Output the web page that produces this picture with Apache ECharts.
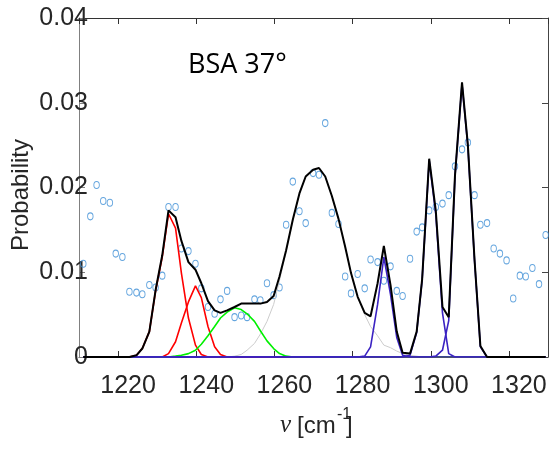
<!DOCTYPE html>
<html><head><meta charset="utf-8">
<script src="https://cdn.jsdelivr.net/npm/echarts@6/dist/echarts.min.js"></script>
<style>html,body{margin:0;padding:0;background:#fff}#c{width:552px;height:452px}</style>
</head><body><div id="c"></div>
<script>
// wavenumber grid (cm^-1)
const nu = [
1211.1,1212.9,1214.5,1216.2,1217.9,1219.4,1221.1,1222.9,1224.7,1226.2,1228.0,1229.6,
1231.3,1232.9,1234.7,1236.2,1238.0,1239.8,1241.3,1243.0,1244.7,1246.2,1247.9,1249.8,
1251.5,1253.0,1254.9,1256.4,1258.1,1259.8,1261.3,1263.0,1264.7,1266.4,1268.0,1269.9,
1271.4,1273.0,1274.7,1276.4,1278.1,1279.6,1281.3,1283.1,1284.6,1286.4,1288.0,1289.7,
1291.3,1292.8,1294.7,1296.4,1297.8,1299.6,1301.3,1303.0,1304.6,1306.2,1308.0,1309.5,
1311.2,1312.7,1314.4,1316.1,1317.7,1319.4,1321.1,1322.8,1324.3,1326.0,1327.7,1329.4];
// measured probability (circles)
const measured = [
0.0110,0.0166,0.0203,0.0184,0.0182,0.0122,0.0118,0.0077,0.0076,0.0074,0.0085,0.0082,
0.0096,0.0177,0.0177,0.0128,0.0125,0.0110,0.0081,0.0059,0.0051,0.0068,0.0078,0.0047,
0.0049,0.0047,0.0068,0.0067,0.0087,0.0073,0.0082,0.0156,0.0207,0.0172,0.0158,0.0217,
0.0215,0.0276,0.0170,0.0157,0.0095,0.0075,0.0098,0.0081,0.0115,0.0112,0.0090,0.0107,
0.0078,0.0072,0.0116,0.0148,0.0153,0.0173,0.0177,0.0181,0.0191,0.0225,0.0245,0.0253,
0.0191,0.0156,0.0158,0.0128,0.0122,0.0114,0.0069,0.0096,0.0095,0.0105,0.0086,0.0144];
// total fit (black)
const fitTotal = [
0,0,0,0,0,0,0,0,0.0002,0.0010,0.0030,0.0079,
0.0120,0.0173,0.0165,0.0137,0.0112,0.0103,0.0087,0.0066,0.0055,0.0052,0.0055,0.0059,
0.0063,0.0063,0.0063,0.0063,0.0065,0.0072,0.0095,0.0126,0.0162,0.0193,0.0213,0.0221,
0.0223,0.0213,0.0190,0.0163,0.0130,0.0099,0.0071,0.0052,0.0048,0.0087,0.0131,0.0085,
0.0030,0.0005,0.0004,0.0030,0.0092,0.0234,0.0172,0.0059,0.0047,0.0214,0.0324,0.0250,
0.0115,0.0013,0,0,0,0,0,0,0,0,0,0];
// component bands
const red1 = [
0,0,0,0,0,0,0,0,0.0002,0.0010,0.0030,0.0078,
0.0118,0.0169,0.0152,0.0099,0.0046,0.0014,0.0003,0,0,0,0,0,
0,0,0,0,0,0,0,0,0,0,0,0,
0,0,0,0,0,0,0,0,0,0,0,0,
0,0,0,0,0,0,0,0,0,0,0,0,
0,0,0,0,0,0,0,0,0,0,0,0];
const red2 = [
0,0,0,0,0,0,0,0,0,0,0,0,
0,0.0004,0.0018,0.0040,0.0065,0.0084,0.0070,0.0036,0.0012,0.0003,0,0,
0,0,0,0,0,0,0,0,0,0,0,0,
0,0,0,0,0,0,0,0,0,0,0,0,
0,0,0,0,0,0,0,0,0,0,0,0,
0,0,0,0,0,0,0,0,0,0,0,0];
const green = [
0,0,0,0,0,0,0,0,0,0,0,0,
0,0,0.0001,0.0002,0.0004,0.0008,0.0015,0.0025,0.0036,0.0046,0.0053,0.0058,
0.0056,0.0051,0.0042,0.0031,0.0019,0.0010,0.0004,0.0001,0,0,0,0,
0,0,0,0,0,0,0,0,0,0,0,0,
0,0,0,0,0,0,0,0,0,0,0,0,
0,0,0,0,0,0,0,0,0,0,0,0];
const gray = [
0,0,0,0,0,0,0,0,0,0,0,0,
0,0,0,0,0,0,0,0,0,0,0,0.0001,
0.0003,0.0008,0.0016,0.0027,0.0042,0.0062,0.0090,0.0125,0.0161,0.0193,0.0213,0.0221,
0.0223,0.0213,0.0190,0.0163,0.0130,0.0099,0.0071,0.0050,0.0036,0.0025,0.0014,0.0011,
0.0007,0.0004,0.0002,0.0001,0,0,0,0,0,0,0,0,
0,0,0,0,0,0,0,0,0,0,0,0];
const blue1 = [
0,0,0,0,0,0,0,0,0,0,0,0,
0,0,0,0,0,0,0,0,0,0,0,0,
0,0,0,0,0,0,0,0,0,0,0,0,
0,0,0,0,0,0,0,0.0001,0.0012,0.0062,0.0118,0.0074,
0.0023,0.0002,0,0,0,0,0,0,0,0,0,0,
0,0,0,0,0,0,0,0,0,0,0,0];
const blue2 = [
0,0,0,0,0,0,0,0,0,0,0,0,
0,0,0,0,0,0,0,0,0,0,0,0,
0,0,0,0,0,0,0,0,0,0,0,0,
0,0,0,0,0,0,0,0,0,0,0,0,
0,0,0.0002,0.0029,0.0091,0.0232,0.0168,0.0052,0.0004,0,0,0,
0,0,0,0,0,0,0,0,0,0,0,0];
const blue3 = [
0,0,0,0,0,0,0,0,0,0,0,0,
0,0,0,0,0,0,0,0,0,0,0,0,
0,0,0,0,0,0,0,0,0,0,0,0,
0,0,0,0,0,0,0,0,0,0,0,0,
0,0,0,0,0,0,0.0001,0.0008,0.0043,0.0213,0.0322,0.0248,
0.0114,0.0012,0,0,0,0,0,0,0,0,0,0];

const pts = arr => nu.map((x, i) => [x, arr[i]]);
const lineS = (arr, color, w) => ({
  type: 'line', data: pts(arr), showSymbol: false, symbol: 'none',
  lineStyle: { color: color, width: w }, silent: true, animation: false
});
const axisCol = '#262626';
const chart = echarts.init(document.getElementById('c'), null, { renderer: 'canvas' });
chart.setOption({
  animation: false,
  backgroundColor: '#ffffff',
  grid: { left: 79, right: 4, top: 18, bottom: 95, containLabel: false },
  xAxis: [{
    type: 'value', position: 'bottom', min: 1210, max: 1330, splitNumber: 6,
    axisLine: { show: true, onZero: false, lineStyle: { color: '#333', width: 1 } },
    axisTick: { show: true, inside: true, length: 6, lineStyle: { color: '#333' } },
    axisLabel: { show: true, showMinLabel: false, showMaxLabel: false, margin: 17,
      fontFamily: 'Liberation Sans', fontSize: 25, color: axisCol, padding: [0, 0, 0, 20],
      formatter: v => String(Math.round(v)) },
    splitLine: { show: false }
  }, {
    type: 'value', position: 'top', min: 1210, max: 1330, splitNumber: 6,
    axisLine: { show: true, onZero: false, lineStyle: { color: '#333', width: 1 } },
    axisTick: { show: true, inside: true, length: 6, lineStyle: { color: '#333' } },
    axisLabel: { show: false }, splitLine: { show: false }
  }],
  yAxis: [{
    type: 'value', position: 'left', min: 0, max: 0.04, interval: 0.01,
    axisLine: { show: true, onZero: false, lineStyle: { color: '#808080', width: 1 } },
    axisTick: { show: true, inside: true, length: 6, lineStyle: { color: '#808080' } },
    axisLabel: { show: true, margin: -9, fontFamily: 'Liberation Sans', fontSize: 25,
      color: axisCol, padding: [10, 0, 0, 0],
      formatter: v => (v === 0 ? '0' : v.toFixed(2)) },
    splitLine: { show: false }
  }, {
    type: 'value', position: 'right', min: 0, max: 0.04, interval: 0.01,
    axisLine: { show: true, onZero: false, lineStyle: { color: '#444', width: 1 } },
    axisTick: { show: true, inside: true, length: 6, lineStyle: { color: '#444' } },
    axisLabel: { show: false }, splitLine: { show: false }
  }],
  series: [
    lineS(gray, '#cccccc', 1),
    lineS(red1, '#ff0000', 1.6),
    lineS(red2, '#ff0000', 1.6),
    lineS(green, '#00f000', 1.6),
    lineS(blue1, '#3a22c2', 1.6),
    lineS(blue2, '#3a22c2', 1.6),
    lineS(blue3, '#3a22c2', 1.6),
    lineS(fitTotal, '#000000', 2),
    {
      type: 'scatter', data: pts(measured), symbol: 'circle', symbolSize: [5.5, 7],
      itemStyle: { color: 'rgba(0,0,0,0)', borderColor: '#3d8fd6', borderWidth: 1 },
      silent: true, animation: false
    }
  ],
  graphic: [
    { type: 'text', left: 188, top: 52, silent: true,
      style: { text: 'BSA 37°', font: '27px "Open Sans"', fill: '#000' } },
    { type: 'text', x: 21, y: 195, rotation: Math.PI / 2, silent: true,
      style: { text: 'Probability', font: '24px "Liberation Sans"', fill: axisCol,
        textAlign: 'center', textVerticalAlign: 'middle' } },
    { type: 'text', x: 280, y: 438, silent: true,
      style: { text: 'ν', font: 'italic 25px "Liberation Serif"', fill: axisCol,
        textAlign: 'left', textVerticalAlign: 'bottom' } },
    { type: 'text', x: 297, y: 438, silent: true,
      style: { text: '[cm', font: '24px "Liberation Sans"', fill: axisCol,
        textAlign: 'left', textVerticalAlign: 'bottom' } },
    { type: 'text', x: 337, y: 423, silent: true,
      style: { text: '-1', font: '16px "Liberation Sans"', fill: axisCol,
        textAlign: 'left', textVerticalAlign: 'bottom' } },
    { type: 'text', x: 346, y: 438, silent: true,
      style: { text: ']', font: '24px "Liberation Sans"', fill: axisCol,
        textAlign: 'left', textVerticalAlign: 'bottom' } }
  ]
});
</script></body></html>
